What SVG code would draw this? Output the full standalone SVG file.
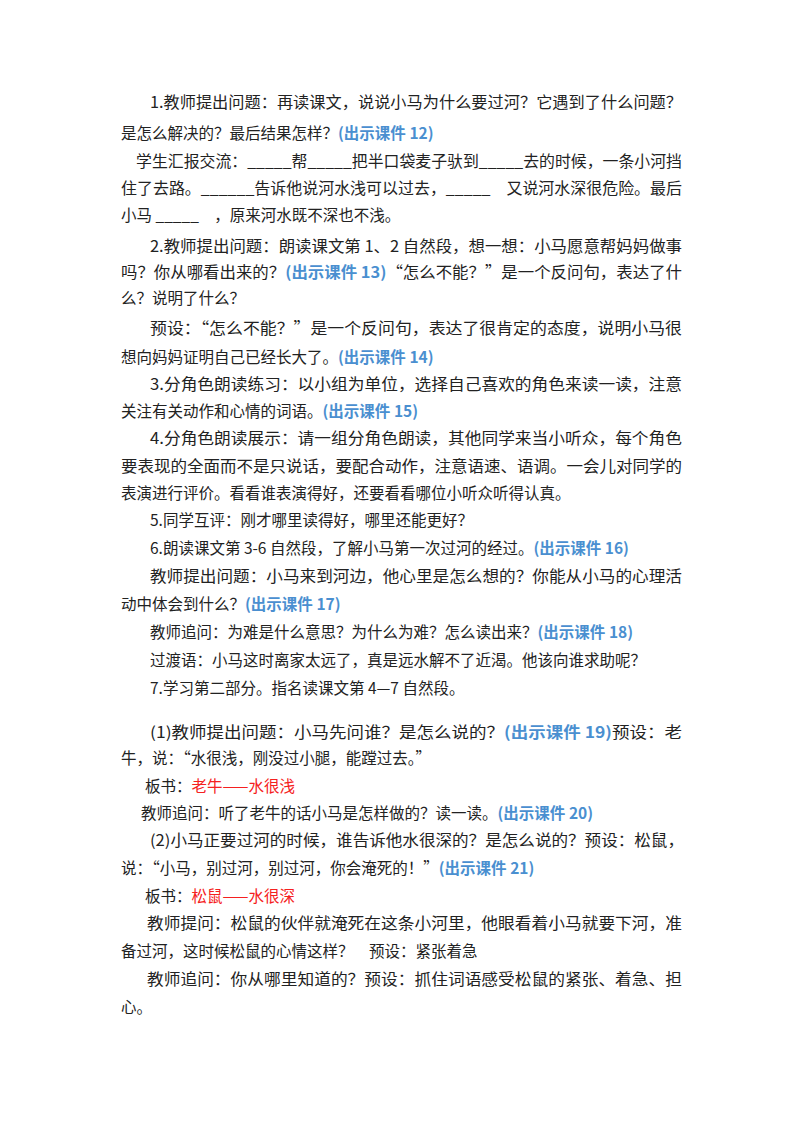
<svg xmlns="http://www.w3.org/2000/svg" width="800" height="1132" viewBox="0 0 800 1132">
<style>
text{font-family:"Noto Sans CJK SC","Liberation Serif",serif;font-size:15.5px;fill:#222}
.b{fill:#4a8fd0;font-weight:bold}
.r{fill:#f52020}
</style>
<rect width="800" height="1132" fill="#fff"/>
<g id="text">
<text x="150" y="108" textLength="532" lengthAdjust="spacingAndGlyphs">1.教师提出问题：再读课文，说说小马为什么要过河？它遇到了什么问题？</text>
<text x="121" y="139">是怎么解决的？最后结果怎样？<tspan class="b">(出示课件 12)</tspan></text>
<text x="136" y="167" textLength="546" lengthAdjust="spacingAndGlyphs">学生汇报交流：_____帮_____把半口袋麦子驮到_____去的时候，一条小河挡</text>
<text x="121" y="194" textLength="561" lengthAdjust="spacingAndGlyphs">住了去路。______告诉他说河水浅可以过去，_____　又说河水深很危险。最后</text>
<text x="121" y="221">小马 _____　，原来河水既不深也不浅。</text>
<text x="150" y="252" textLength="532" lengthAdjust="spacingAndGlyphs">2.教师提出问题：朗读课文第 1、2 自然段，想一想：小马愿意帮妈妈做事</text>
<text x="121" y="278" textLength="561" lengthAdjust="spacingAndGlyphs">吗？你从哪看出来的？<tspan class="b">(出示课件 13)</tspan>“怎么不能？”是一个反问句，表达了什</text>
<text x="121" y="304">么？说明了什么？</text>
<text x="150" y="334" textLength="532" lengthAdjust="spacingAndGlyphs">预设：“怎么不能？”是一个反问句，表达了很肯定的态度，说明小马很</text>
<text x="121" y="363">想向妈妈证明自己已经长大了。<tspan class="b">(出示课件 14)</tspan></text>
<text x="150" y="390" textLength="532" lengthAdjust="spacingAndGlyphs">3.分角色朗读练习：以小组为单位，选择自己喜欢的角色来读一读，注意</text>
<text x="121" y="417">关注有关动作和心情的词语。<tspan class="b">(出示课件 15)</tspan></text>
<text x="150" y="444" textLength="532" lengthAdjust="spacingAndGlyphs">4.分角色朗读展示：请一组分角色朗读，其他同学来当小听众，每个角色</text>
<text x="121" y="472" textLength="561" lengthAdjust="spacingAndGlyphs">要表现的全面而不是只说话，要配合动作，注意语速、语调。一会儿对同学的</text>
<text x="121" y="499">表演进行评价。看看谁表演得好，还要看看哪位小听众听得认真。</text>
<text x="150" y="526">5.同学互评：刚才哪里读得好，哪里还能更好？</text>
<text x="150" y="554">6.朗读课文第 3-6 自然段，了解小马第一次过河的经过。<tspan class="b">(出示课件 16)</tspan></text>
<text x="150" y="582" textLength="532" lengthAdjust="spacingAndGlyphs">教师提出问题：小马来到河边，他心里是怎么想的？你能从小马的心理活</text>
<text x="121" y="610">动中体会到什么？<tspan class="b">(出示课件 17)</tspan></text>
<text x="150" y="638">教师追问：为难是什么意思？为什么为难？怎么读出来？<tspan class="b">(出示课件 18)</tspan></text>
<text x="150" y="666">过渡语：小马这时离家太远了，真是远水解不了近渴。他该向谁求助呢？</text>
<text x="150" y="694">7.学习第二部分。指名读课文第 4—7 自然段。</text>
<text x="150" y="738" textLength="532" lengthAdjust="spacingAndGlyphs">(1)教师提出问题：小马先问谁？是怎么说的？<tspan class="b">(出示课件 19)</tspan>预设：老</text>
<text x="121" y="764">牛，说：“水很浅，刚没过小腿，能蹚过去。”</text>
<text x="145" y="792">板书：<tspan class="r">老牛——水很浅</tspan></text>
<text x="141" y="819">教师追问：听了老牛的话小马是怎样做的？读一读。<tspan class="b">(出示课件 20)</tspan></text>
<text x="150" y="846" textLength="534" lengthAdjust="spacingAndGlyphs">(2)小马正要过河的时候，谁告诉他水很深的？是怎么说的？预设：松鼠，</text>
<text x="121" y="874">说：“小马，别过河，别过河，你会淹死的！”<tspan class="b">(出示课件 21)</tspan></text>
<text x="145" y="902">板书：<tspan class="r">松鼠——水很深</tspan></text>
<text x="147" y="929" textLength="535" lengthAdjust="spacingAndGlyphs">教师提问：松鼠的伙伴就淹死在这条小河里，他眼看着小马就要下河，准</text>
<text x="121" y="957">备过河，这时候松鼠的心情这样？　预设：紧张着急</text>
<text x="147" y="985" textLength="535" lengthAdjust="spacingAndGlyphs">教师追问：你从哪里知道的？预设：抓住词语感受松鼠的紧张、着急、担</text>
<text x="121" y="1013">心。</text>
</g>
</svg>
